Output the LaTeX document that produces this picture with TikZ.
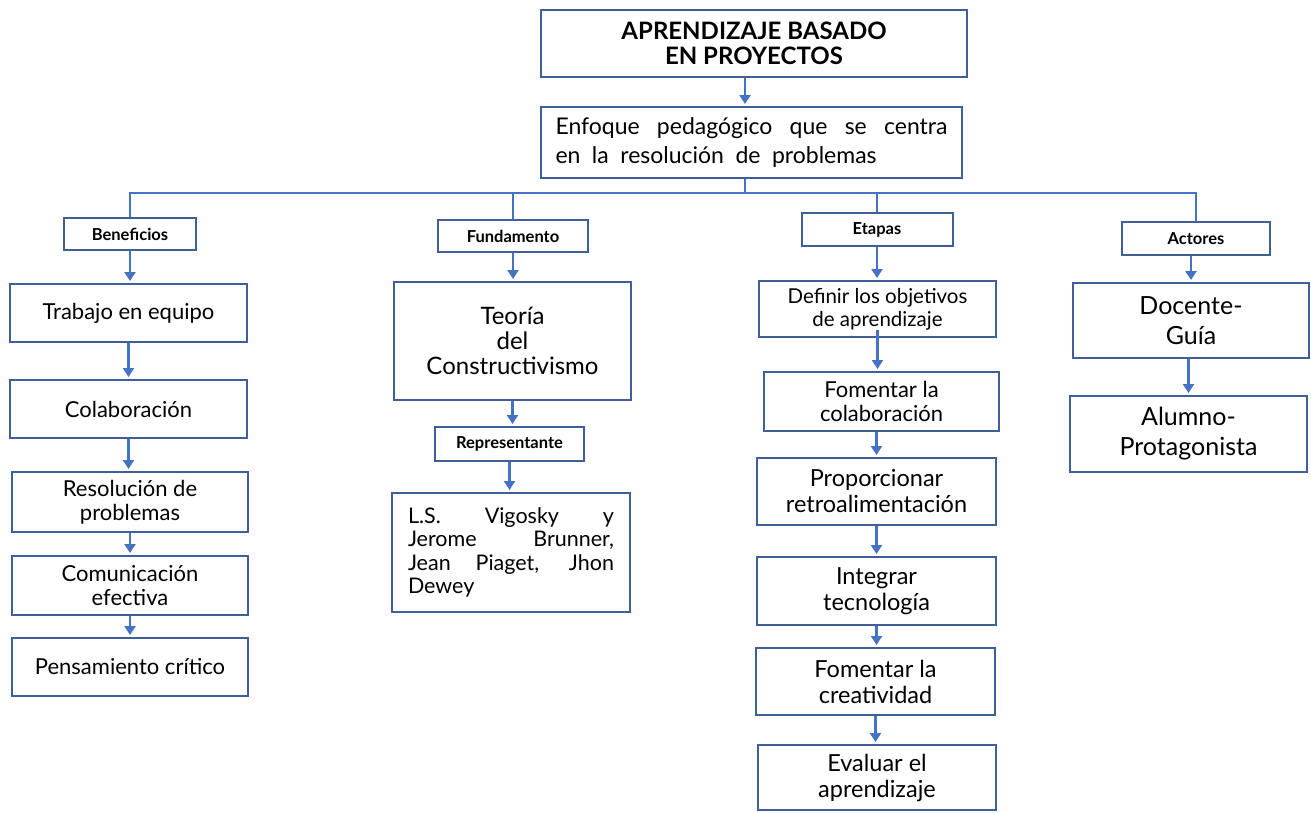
\documentclass[tikz,border=0pt]{standalone}
\usepackage{fontspec}
\setmainfont{Lato}
\usepackage{xcolor}
\usetikzlibrary{arrows.meta,positioning,calc}
\definecolor{borde}{HTML}{3F5E9A}
\definecolor{flechaazul}{HTML}{4472C4}

\tikzset{
  caja/.style={draw=borde, line width=2pt, align=center, inner sep=0pt, font=\fontsize{22}{24}\selectfont},
  etiqueta/.style={caja, font=\fontsize{16.5}{18}\selectfont\bfseries},
  linea/.style={draw=flechaazul, line width=2.4pt},
  flecha/.style={linea, -{Triangle[width=11pt,length=9pt]}, shorten >=2pt}
}

\begin{document}
\begin{tikzpicture}[x=1pt,y=-1pt]
\useasboundingbox (0,0) rectangle (1311,812);

% Nodos superiores
\node[caja, minimum width=426, minimum height=67, font=\fontsize{24}{25}\selectfont\bfseries] (titulo) at (754,43.5) {APRENDIZAJE BASADO\\ EN PROYECTOS};
\node[caja, minimum width=421, minimum height=71, text width=392, align=justify, font=\fontsize{23}{29}\selectfont] (enfoque) at (751.5,142.5) {\spaceskip=0.5em plus 1em\relax Enfoque pedagógico que se centra\linebreak en la resolución de problemas};
\coordinate (barra) at (745,193);

% Etiquetas
\node[etiqueta, minimum width=132, minimum height=32] (benef) at (130,234) {Beneficios};
\node[etiqueta, minimum width=150, minimum height=32] (fundam) at (513,236) {Fundamento};
\node[etiqueta, minimum width=151, minimum height=33] (etapas) at (877,229.5) {Etapas};
\node[etiqueta, minimum width=148, minimum height=33] (actores) at (1196,238.5) {Actores};

% Beneficios
\node[caja, minimum width=237, minimum height=58] (trabajo) at (128.5,313) {Trabajo en equipo};
\node[caja, minimum width=237, minimum height=58] (colab) at (128.5,409) {Colaboración};
\node[caja, minimum width=236, minimum height=60] (resol) at (130,502) {Resolución de\\ problemas};
\node[caja, minimum width=236, minimum height=59] (comun) at (130,585.5) {Comunicación\\ efectiva};
\node[caja, minimum width=236, minimum height=58] (pensam) at (130,667) {Pensamiento crítico};

% Fundamento
\node[caja, minimum width=237, minimum height=118, font=\fontsize{24}{25}\selectfont] (teoria) at (512.5,341) {Teoría\\ del\\ Constructivismo};
\node[etiqueta, minimum width=149, minimum height=34] (repres) at (509.5,444) {Representante};
\node[caja, minimum width=238, minimum height=119, text width=206, align=justify, font=\fontsize{21.5}{23.5}\selectfont] (autores) at (511,552.5) {L.S. Vigosky y\linebreak Jerome Brunner,\linebreak Jean Piaget, Jhon\linebreak Dewey};

% Etapas
\node[caja, minimum width=237, minimum height=56, font=\fontsize{20.5}{23}\selectfont] (definir) at (877.5,309) {Definir los objetivos\\ de aprendizaje};
\node[caja, minimum width=235, minimum height=59] (fomcol) at (881.5,401.5) {Fomentar la\\ colaboración};
\node[caja, minimum width=239, minimum height=67, font=\fontsize{23.5}{26}\selectfont] (retro) at (876.5,491.5) {Proporcionar\\ retroalimentación};
\node[caja, minimum width=239, minimum height=68, font=\fontsize{23.5}{26}\selectfont] (integ) at (876.5,591) {Integrar\\ tecnología};
\node[caja, minimum width=239, minimum height=67, font=\fontsize{23.5}{26}\selectfont] (creat) at (875.5,681.5) {Fomentar la\\ creatividad};
\node[caja, minimum width=238, minimum height=65, font=\fontsize{23.5}{26}\selectfont] (evalua) at (877,777.5) {Evaluar el\\ aprendizaje};

% Actores
\node[caja, minimum width=236, minimum height=75, font=\fontsize{25}{30}\selectfont] (docente) at (1191,320.5) {Docente-\\ Guía};
\node[caja, minimum width=237, minimum height=76, font=\fontsize{25}{30}\selectfont] (alumno) at (1188.5,434) {Alumno-\\ Protagonista};

% Conexiones
\draw[flecha] (titulo.south -| barra) -- (enfoque.north -| barra);
\draw[linea] (enfoque.south -| barra) -- (barra);
\draw[linea] (barra) -| (benef.north);
\draw[linea] (barra) -| (fundam.north);
\draw[linea] (barra) -| (etapas.north);
\draw[linea] (barra) -| (actores.north);

\draw[flecha] (benef.south) -- (benef.south |- trabajo.north);
\draw[flecha] (trabajo.south) -- (trabajo.south |- colab.north);
\draw[flecha] (colab.south) -- (colab.south |- resol.north);
\draw[flecha] (resol.south) -- (resol.south |- comun.north);
\draw[flecha] (comun.south) -- (comun.south |- pensam.north);

\draw[flecha] (fundam.south) -- (fundam.south |- teoria.north);
\draw[flecha] (teoria.south) -- (teoria.south |- repres.north);
\draw[flecha] (repres.south) -- (repres.south |- autores.north);

\draw[flecha] (etapas.south) -- (etapas.south |- definir.north);
\draw[flecha] ([yshift=8pt]definir.south) -- (definir.south |- fomcol.north);
\draw[flecha] (fomcol.south -| retro.south) -- (retro.north);
\draw[flecha] (retro.south) -- (retro.south |- integ.north);
\draw[flecha] (integ.south) -- (integ.south |- creat.north);
\draw[flecha] (creat.south) -- (creat.south |- evalua.north);

\draw[flecha] (actores.south -| docente.south) -- (docente.north);
\draw[flecha] (docente.south -| alumno.south) -- (alumno.north);
\end{tikzpicture}
\end{document}
